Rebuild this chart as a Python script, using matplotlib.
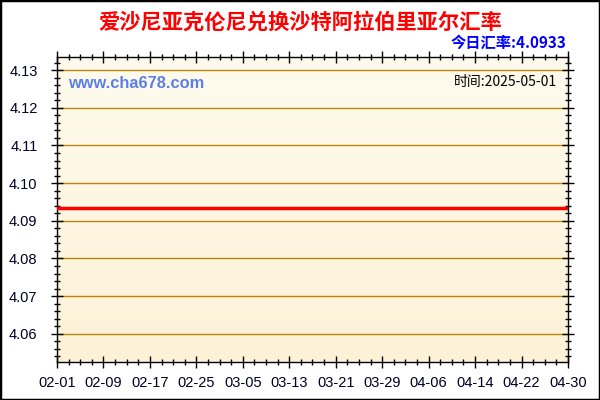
import matplotlib
matplotlib.use("Agg")
import matplotlib.pyplot as plt
import matplotlib.dates as mdates
from matplotlib.ticker import MultipleLocator
from matplotlib.patches import Rectangle
import numpy as np
import pandas as pd

# 数据
dates = ["2025-02-01", "2025-04-30"]
rates = [4.0933, 4.0933]
title = "爱沙尼亚克伦尼兑换沙特阿拉伯里亚尔汇率"
today_text = "今日汇率:4.0933"
time_text = "时间:2025-05-01"
site_text = "www.cha678.com"

cjk = ["Noto Sans CJK SC", "DejaVu Sans"]
latin = ["Liberation Sans", "DejaVu Sans"]

fig = plt.figure(figsize=(6, 4), dpi=100)
fig.patch.set_facecolor("white")
ax = fig.add_axes([57 / 600, 1 - 362 / 400, 511 / 600, 305 / 400])

x = pd.to_datetime(dates)
x0, x1 = mdates.date2num(x[0]), mdates.date2num(x[-1])
ylo, yhi = 4.0525, 4.1335

# 渐变背景
grad = np.linspace(0, 1, 256).reshape(-1, 1)
top = np.array([254, 251, 238]) / 255
bot = np.array([253, 241, 215]) / 255
img = top + (bot - top) * grad[:, :, None]
ax.imshow(img, extent=[x0, x1, ylo, yhi], aspect="auto", zorder=0,
          origin="upper")

for v in np.arange(4.06, 4.1301, 0.01):
    ax.axhline(v, color="#b8860b", lw=1, zorder=1)

ax.plot(x, rates, color="#ff0000", lw=2.5, zorder=3)

ax.set_xlim(x0, x1)
ax.set_ylim(ylo, yhi)

ticks = pd.date_range("2025-02-01", "2025-04-30", freq="8D")
ax.set_xticks(mdates.date2num(ticks))
ax.set_xticklabels([d.strftime("%m-%d") for d in ticks])
ax.xaxis.set_minor_locator(MultipleLocator(2))
ax.yaxis.set_major_locator(MultipleLocator(0.01))
ax.yaxis.set_minor_locator(MultipleLocator(0.002))
ax.yaxis.set_major_formatter(plt.FormatStrFormatter("%.2f"))

ax.tick_params(which="both", direction="inout", top=True, right=True,
               colors="black", labelcolor="#000022")
ax.tick_params(which="major", length=8, width=1, labelsize=10.5, pad=6)
ax.tick_params(which="minor", length=5, width=1)
ax.tick_params(axis="y", which="major", pad=10)
for lab in ax.get_xticklabels() + ax.get_yticklabels():
    lab.set_family(latin)
for s in ax.spines.values():
    s.set_color("black")
    s.set_linewidth(1)

fig.text(0.5, 1 - 22 / 400, title, ha="center", va="center", color="red",
         fontsize=15.3, fontweight="bold", family=cjk)
fig.text(566 / 600, 1 - 43 / 400, today_text, ha="right", va="center",
         color="#0000ff", fontsize=11, fontweight="bold", family=cjk)
fig.text(68 / 600, 1 - 84 / 400, site_text, ha="left", va="center",
         color="#5b7fe8", fontsize=11.8, fontweight="bold", family=latin)
fig.text(557 / 600, 1 - 82 / 400, time_text, ha="right", va="center",
         color="black", fontsize=10, family=cjk)

fig.patches.append(Rectangle((0, 0), 1, 1, transform=fig.transFigure,
                             fill=False, edgecolor="black", lw=2.5))

fig.savefig("out.png", dpi=100)
